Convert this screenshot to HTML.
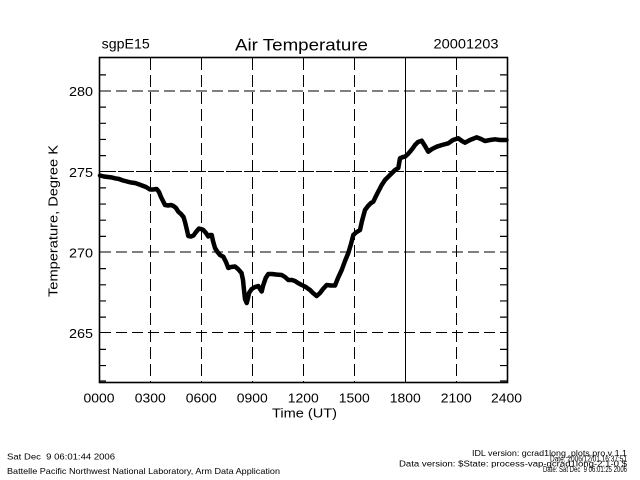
<!DOCTYPE html>
<html><head><meta charset="utf-8"><style>
html,body{margin:0;padding:0;background:#fff;}
svg{display:block;}
text{font-family:"Liberation Sans",sans-serif;fill:#000;}
</style></head><body>
<svg width="640" height="480" viewBox="0 0 640 480" xmlns="http://www.w3.org/2000/svg">
<rect x="0" y="0" width="640" height="480" fill="#fff"/>
<!-- grid vertical -->
<g stroke="#000" stroke-width="1" fill="none" stroke-dasharray="12 5">
<line x1="150.5" y1="58" x2="150.5" y2="382"/>
<line x1="201.5" y1="58" x2="201.5" y2="382"/>
<line x1="252.5" y1="58" x2="252.5" y2="382"/>
<line x1="303.5" y1="58" x2="303.5" y2="382"/>
<line x1="354.5" y1="58" x2="354.5" y2="382"/>
<line x1="456.5" y1="58" x2="456.5" y2="382"/>
</g>
<line x1="405.5" y1="58" x2="405.5" y2="382" stroke="#000" stroke-width="1"/>
<!-- grid horizontal -->
<g stroke="#000" stroke-width="1" fill="none" stroke-dasharray="11 5">
<line x1="100" y1="91" x2="507" y2="91"/>
<line x1="100" y1="252" x2="507" y2="252"/>
<line x1="100" y1="332.5" x2="507" y2="332.5"/>
</g>
<line x1="100" y1="171.5" x2="507" y2="171.5" stroke="#000" stroke-width="1" stroke-dasharray="16 2"/>
<!-- axes box -->
<rect x="99.5" y="57.5" width="408" height="325" fill="none" stroke="#000" stroke-width="1.6"/>
<!-- minor ticks -->
<g stroke="#000" stroke-width="1.2">
<path d="M99 74.85h7M99 107.15h7M99 123.3h7M99 139.45h7M99 155.6h7M99 187.9h7M99 204.05h7M99 220.2h7M99 236.35h7M99 268.65h7M99 284.8h7M99 300.95h7M99 317.1h7M99 349.4h7M99 365.55h7M99 381h7"/>
<path d="M500 74.85h7M500 107.15h7M500 123.3h7M500 139.45h7M500 155.6h7M500 187.9h7M500 204.05h7M500 220.2h7M500 236.35h7M500 268.65h7M500 284.8h7M500 300.95h7M500 317.1h7M500 349.4h7M500 365.55h7M500 381h7"/>
</g>
<!-- data -->
<polyline fill="none" stroke="#000" stroke-width="4.5" stroke-linejoin="round" stroke-linecap="round" points="
100,175.5 104,176.5 108,177 112,177.5 115,178.3 119,179 123,180.5 127,181.5 131,182.5 135,183 138,184 142,185.5 146,187 150,189.5 153,189.5 156.7,189 159,192 161,197 163,201 165,205 168,205.5 171,205 173.5,206 176,208 178.3,211.7 181,214 183.5,217 185,222 186.7,229 188.3,236 191,236.5 193.5,235.5 196,232 199,228.5 201,229 203.3,230 206,233 208.3,236.5 210,235 211.7,235 213,241 215,248 217.5,252 220,255 223.3,256.7 226,262 228.3,268 231,267 235,266.5 238,269 241.5,273 243,280 244,290 245,299 246.7,303 248,298 249,293 251.7,289 255,287 258.3,286 260,289 261.7,291.5 263,286 265.7,278 268.3,274 272,274 276,274.5 281.7,275 285,277 288.3,280 292,280 295,281 298,283 301.7,285 305,286.5 310,290 313,293 316.7,296 320,293 323,289 326.7,285 331,285.5 335,285.5 338,278 341.7,270 345,261 348.3,253 351,244 353.3,235 356,232.5 360,230 362,221 365,210 368,206 371,203 373.3,201.7 377,194 381.7,185 385,180 388.3,176.7 392,173 395,170 398.3,168 400,158.3 403,157 405,156.7 408,154 410,151.7 413,148 415,145 418,142 421.7,140.7 425,146 428.3,151.7 432,149 436.7,146.7 442,145 448.3,143.3 453,140 458.3,138.3 462,141 465,142.7 470,140 476.7,137.3 481,139 485,141 490,140 495,139.3 500,140 506.5,140"/>
<!-- titles -->
<text x="101.7" y="48.5" font-size="14" textLength="48" lengthAdjust="spacingAndGlyphs">sgpE15</text>
<text x="235" y="50.5" font-size="17" textLength="133" lengthAdjust="spacingAndGlyphs">Air Temperature</text>
<text x="433.5" y="48.5" font-size="14" textLength="65" lengthAdjust="spacingAndGlyphs">20001203</text>
<!-- y labels -->
<g font-size="13" text-anchor="end">
<text x="93" y="96.2" textLength="24" lengthAdjust="spacingAndGlyphs">280</text>
<text x="93" y="176.8" textLength="24" lengthAdjust="spacingAndGlyphs">275</text>
<text x="93" y="257.3" textLength="24" lengthAdjust="spacingAndGlyphs">270</text>
<text x="93" y="337.8" textLength="24" lengthAdjust="spacingAndGlyphs">265</text>
</g>
<!-- x labels -->
<g font-size="13" text-anchor="middle">
<text x="99" y="402.7" textLength="31" lengthAdjust="spacingAndGlyphs">0000</text>
<text x="150.3" y="402.7" textLength="31" lengthAdjust="spacingAndGlyphs">0300</text>
<text x="201.3" y="402.7" textLength="31" lengthAdjust="spacingAndGlyphs">0600</text>
<text x="252.3" y="402.7" textLength="31" lengthAdjust="spacingAndGlyphs">0900</text>
<text x="303.3" y="402.7" textLength="31" lengthAdjust="spacingAndGlyphs">1200</text>
<text x="354.3" y="402.7" textLength="31" lengthAdjust="spacingAndGlyphs">1500</text>
<text x="405.3" y="402.7" textLength="31" lengthAdjust="spacingAndGlyphs">1800</text>
<text x="456.3" y="402.7" textLength="31" lengthAdjust="spacingAndGlyphs">2100</text>
<text x="506.5" y="402.7" textLength="31" lengthAdjust="spacingAndGlyphs">2400</text>
</g>
<text x="272" y="417.3" font-size="13" textLength="65" lengthAdjust="spacingAndGlyphs">Time (UT)</text>
<text transform="translate(57.5,221) rotate(-90)" font-size="13" text-anchor="middle" textLength="152" lengthAdjust="spacingAndGlyphs">Temperature, Degree K</text>
<!-- footer -->
<text x="7" y="459.5" font-size="8.5" textLength="108" lengthAdjust="spacingAndGlyphs" xml:space="preserve">Sat Dec  9 06:01:44 2006</text>
<text x="7" y="474" font-size="8.5" textLength="273" lengthAdjust="spacingAndGlyphs">Battelle Pacific Northwest National Laboratory, Arm Data Application</text>
<g font-size="8" text-anchor="end">
<text x="627" y="456" textLength="155" lengthAdjust="spacingAndGlyphs">IDL version: gcrad1long_plots.pro,v 1.1</text>
<text x="627" y="461.3" textLength="77" lengthAdjust="spacingAndGlyphs">Date: 2006/12/01 16:37:51</text>
<text x="627" y="466.6" textLength="228" lengthAdjust="spacingAndGlyphs">Data version: $State: process-vap-gcrad1long-2.1-0 $</text>
<text x="627" y="472" textLength="84" lengthAdjust="spacingAndGlyphs" xml:space="preserve">Date: Sat Dec  9 06:01:25 2006</text>
</g>
</svg>
</body></html>
